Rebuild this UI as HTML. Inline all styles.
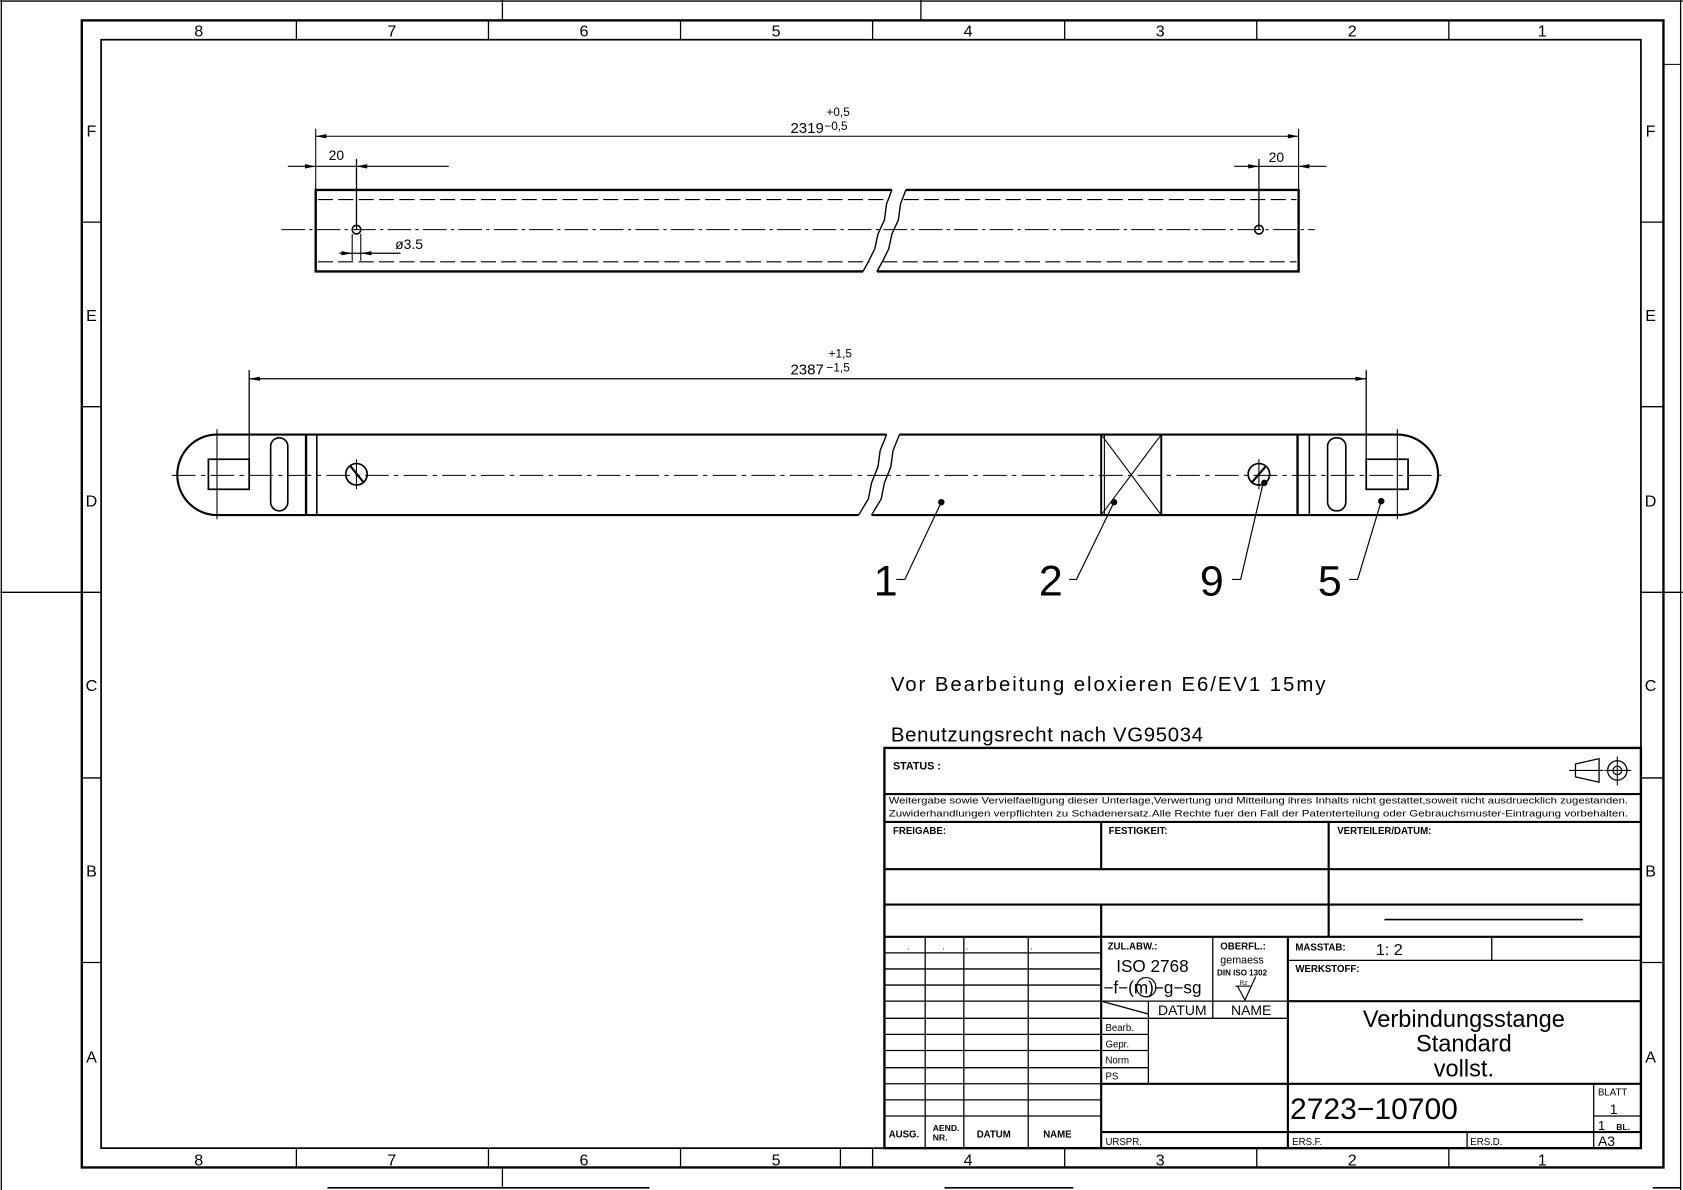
<!DOCTYPE html>
<html><head><meta charset="utf-8"><style>
html,body{margin:0;padding:0;background:#fff}
svg{display:block}
text{font-family:"Liberation Sans",sans-serif;fill:#000}
</style></head><body>
<svg width="1683" height="1190" viewBox="0 0 1568 1109" xmlns="http://www.w3.org/2000/svg">
<g stroke="#000" fill="none">
<line x1="1" y1="0" x2="1" y2="1109" stroke-width="1.2"/>
<line x1="0" y1="1" x2="1568" y2="1" stroke-width="1.2"/>
<line x1="1566" y1="0" x2="1566" y2="1109" stroke-width="1.2"/>
<line x1="468" y1="0" x2="468" y2="19" stroke-width="1.2"/>
<line x1="858" y1="0" x2="858" y2="19" stroke-width="1.2"/>
<line x1="0" y1="552" x2="76" y2="552" stroke-width="1.2"/>
<line x1="1551" y1="552" x2="1568" y2="552" stroke-width="1.2"/>
<line x1="1551" y1="60" x2="1566" y2="60"/>
<line x1="468" y1="1088" x2="468" y2="1107" stroke-width="1.2"/>
<line x1="305" y1="1107" x2="605" y2="1107" stroke-width="1.5"/>
<line x1="880" y1="1107" x2="1000" y2="1107" stroke-width="1.5"/>
<line x1="1540" y1="1107" x2="1566" y2="1107" stroke-width="1.5"/>
<rect x="76" y="19" width="1474" height="1069" stroke-width="2.2"/>
<rect x="94" y="37" width="1435" height="1033" stroke-width="1.6"/>
<g stroke-width="1.2">
<line x1="276" y1="19" x2="276" y2="37"/><line x1="455" y1="19" x2="455" y2="37"/><line x1="634" y1="19" x2="634" y2="37"/><line x1="813" y1="19" x2="813" y2="37"/><line x1="992" y1="19" x2="992" y2="37"/><line x1="1171" y1="19" x2="1171" y2="37"/><line x1="1350" y1="19" x2="1350" y2="37"/>
<line x1="276" y1="1070" x2="276" y2="1088"/><line x1="455" y1="1070" x2="455" y2="1088"/><line x1="634" y1="1070" x2="634" y2="1088"/><line x1="813" y1="1070" x2="813" y2="1088"/><line x1="992" y1="1070" x2="992" y2="1088"/><line x1="1171" y1="1070" x2="1171" y2="1088"/><line x1="1350" y1="1070" x2="1350" y2="1088"/><line x1="783" y1="1070" x2="783" y2="1088"/>
<line x1="76" y1="207" x2="94" y2="207"/><line x1="76" y1="379" x2="94" y2="379"/><line x1="76" y1="552" x2="94" y2="552"/><line x1="76" y1="725" x2="94" y2="725"/><line x1="76" y1="897" x2="94" y2="897"/>
<line x1="1529" y1="207" x2="1550" y2="207"/><line x1="1529" y1="379" x2="1550" y2="379"/><line x1="1529" y1="552" x2="1550" y2="552"/><line x1="1529" y1="725" x2="1550" y2="725"/><line x1="1529" y1="897" x2="1550" y2="897"/>
</g>
</g>
<g font-size="15" text-anchor="middle">
<text x="185" y="34">8</text><text x="365" y="34">7</text><text x="544" y="34">6</text><text x="723" y="34">5</text><text x="902" y="34">4</text><text x="1081" y="34">3</text><text x="1260" y="34">2</text><text x="1437" y="34">1</text>
<text x="185" y="1086">8</text><text x="365" y="1086">7</text><text x="544" y="1086">6</text><text x="723" y="1086">5</text><text x="902" y="1086">4</text><text x="1081" y="1086">3</text><text x="1260" y="1086">2</text><text x="1437" y="1086">1</text>
<text x="85" y="127">F</text><text x="85" y="299">E</text><text x="85" y="472">D</text><text x="85" y="644">C</text><text x="85" y="817">B</text><text x="85" y="990">A</text>
<text x="1538" y="127">F</text><text x="1538" y="299">E</text><text x="1538" y="472">D</text><text x="1538" y="644">C</text><text x="1538" y="817">B</text><text x="1538" y="990">A</text>
</g>

<g stroke="#000" fill="none">
<path d="M831 177 L294 177 L294 253 L804 253" stroke-width="2.2"/>
<path d="M844 177 L1210 177 L1210 253 L817 253" stroke-width="2.2"/>
<path d="M831 177 L826 190 L824 205 L818 218 L815 232 L809 244 L804 253" stroke-width="1.3"/>
<path d="M844 177 L839 190 L837 205 L831 218 L828 232 L822 244 L817 253" stroke-width="1.3"/>
<g stroke-dasharray="14,5" stroke-width="1"><line x1="296" y1="186" x2="826" y2="186"/><line x1="842" y1="186" x2="1208" y2="186"/><line x1="296" y1="244" x2="810" y2="244"/><line x1="822" y1="244" x2="1208" y2="244"/></g>
<line x1="262" y1="214" x2="1225" y2="214" stroke-width="1" stroke-dasharray="22,4,3,4"/>
<circle cx="332" cy="214" r="4" stroke-width="1.5"/>
<circle cx="1173" cy="214" r="4" stroke-width="1.5"/>
<line x1="294" y1="120" x2="294" y2="177" stroke-width="1"/>
<line x1="1210" y1="120" x2="1210" y2="177" stroke-width="1"/>
<line x1="294" y1="127" x2="1210" y2="127" stroke-width="1"/>
<line x1="268" y1="155" x2="418" y2="155" stroke-width="1"/>
<line x1="332" y1="148" x2="332" y2="214" stroke-width="1.2"/>
<line x1="1150" y1="155" x2="1236" y2="155" stroke-width="1"/>
<line x1="1173" y1="148" x2="1173" y2="214" stroke-width="1.2"/>
<line x1="316" y1="236" x2="373" y2="236" stroke-width="1.2"/>
<line x1="328" y1="218" x2="328" y2="243" stroke-width="1"/><line x1="336" y1="218" x2="336" y2="243" stroke-width="1"/>
</g>
<g fill="#000">
<path d="M294 127 l10 -2 v4z"/><path d="M1210 127 l-10 -2 v4z"/>
<path d="M294 155 l-10 -2 v4z"/><path d="M332 155 l10 -2 v4z"/>
<path d="M1173 155 l-10 -2 v4z"/><path d="M1210 155 l10 -2 v4z"/>
<path d="M328 236 l-10 -2 v4z"/><path d="M336 236 l10 -2 v4z"/>
</g>
<text x="752" y="124" font-size="14" text-anchor="middle">2319</text>
<text x="770" y="108" font-size="11">+0,5</text>
<text x="768" y="121" font-size="11">−0,5</text>
<text x="306" y="149" font-size="13">20</text>
<text x="1182" y="151" font-size="13">20</text>
<text x="368" y="232" font-size="13">ø3.5</text>

<g stroke="#000" fill="none">
<path d="M826 405 L202 405 A37 37.5 0 0 0 202 480 L800 480" stroke-width="2"/>
<path d="M838 405 L1302 405 A38 37.5 0 0 1 1302 480 L812 480" stroke-width="2"/>
<path d="M826 405 L820 420 L818 435 L812 450 L809 465 L803 475 L800 480" stroke-width="1.3"/>
<path d="M838 405 L832 420 L830 435 L824 450 L821 465 L815 475 L812 480" stroke-width="1.3"/>
<line x1="160" y1="443" x2="1345" y2="443" stroke-width="1" stroke-dasharray="22,5,4,5"/>
<line x1="202" y1="400" x2="202" y2="484" stroke-width="1"/>
<line x1="1302" y1="400" x2="1302" y2="484" stroke-width="1"/>
<rect x="194" y="428" width="38" height="28" stroke-width="1.6"/>
<rect x="1273" y="428" width="39" height="28" stroke-width="1.6"/>
<rect x="252" y="408" width="16" height="68" rx="8" stroke-width="1.5"/>
<rect x="1237" y="408" width="17" height="68" rx="8" stroke-width="1.5"/>
<line x1="285" y1="405" x2="285" y2="480" stroke-width="2.2"/><line x1="295" y1="405" x2="295" y2="480" stroke-width="1.5"/>
<line x1="1209" y1="405" x2="1209" y2="480" stroke-width="2.2"/><line x1="1220" y1="405" x2="1220" y2="480" stroke-width="1.5"/>
<circle cx="332" cy="442" r="10" stroke-width="1.6"/><line x1="326" y1="434" x2="339" y2="450" stroke-width="2"/><line x1="332" y1="428" x2="332" y2="456" stroke-width="1"/>
<circle cx="1173" cy="442" r="10" stroke-width="1.6"/><line x1="1166" y1="450" x2="1180" y2="434" stroke-width="2"/><line x1="1173" y1="428" x2="1173" y2="456" stroke-width="1"/>
<rect x="1026" y="405" width="56" height="75" stroke-width="1.8"/>
<line x1="1029" y1="405" x2="1029" y2="480" stroke-width="1"/>
<line x1="1026" y1="405" x2="1082" y2="480" stroke-width="1"/><line x1="1082" y1="405" x2="1026" y2="480" stroke-width="1"/>
<line x1="232" y1="345" x2="232" y2="428" stroke-width="1.2"/>
<line x1="1273" y1="345" x2="1273" y2="428" stroke-width="1.2"/>
<line x1="232" y1="353" x2="1273" y2="353" stroke-width="1.2"/>
<g stroke-width="1.1">
<path d="M877 468 L843 540 L835 540"/><path d="M1038 468 L1003 540 L996 540"/><path d="M1177 450 L1156 540 L1148 540"/><path d="M1287 467 L1265 540 L1257 540"/>
</g>
</g>
<g fill="#000">
<path d="M232 353 l10 -2 v4z"/><path d="M1273 353 l-10 -2 v4z"/>
<circle cx="877" cy="468" r="3"/><circle cx="1038" cy="468" r="3"/><circle cx="1178" cy="450" r="3"/><circle cx="1287" cy="467" r="3"/>
</g>
<text x="752" y="349" font-size="14" text-anchor="middle">2387</text>
<text x="772" y="333" font-size="11">+1,5</text>
<text x="770" y="346" font-size="11">−1,5</text>
<g font-size="40" font-weight="normal">
<text x="814" y="555">1</text><text x="968" y="555">2</text><text x="1118" y="555">9</text><text x="1228" y="555">5</text>
</g>
<text x="830" y="644" font-size="19" textLength="405" lengthAdjust="spacing">Vor Bearbeitung eloxieren E6/EV1 15my</text>
<text x="830" y="691" font-size="19" textLength="291" lengthAdjust="spacing">Benutzungsrecht nach VG95034</text>

<g stroke="#000" fill="none">
<rect x="824" y="697" width="705" height="373" stroke-width="2.2"/>
<g stroke-width="2">
<line x1="824" y1="740" x2="1529" y2="740"/><line x1="824" y1="766" x2="1529" y2="766"/><line x1="824" y1="810" x2="1529" y2="810"/><line x1="824" y1="843" x2="1529" y2="843"/><line x1="824" y1="873" x2="1529" y2="873"/>
<line x1="1200" y1="933" x2="1529" y2="933"/><line x1="1200" y1="1010" x2="1529" y2="1010"/><line x1="1026" y1="1055" x2="1529" y2="1055"/><line x1="1026" y1="1010" x2="1200" y2="1010"/>
<line x1="1026" y1="766" x2="1026" y2="810"/><line x1="1238" y1="766" x2="1238" y2="873"/><line x1="1026" y1="843" x2="1026" y2="1070"/><line x1="1200" y1="873" x2="1200" y2="1070"/>
</g>
<g stroke-width="1.2">
<line x1="1290" y1="857" x2="1475" y2="857" stroke-width="1.5"/>
<line x1="1200" y1="895" x2="1529" y2="895"/><line x1="1390" y1="873" x2="1390" y2="895"/>
<line x1="1485" y1="1010" x2="1485" y2="1070"/><line x1="1485" y1="1040" x2="1529" y2="1040"/><line x1="1367" y1="1055" x2="1367" y2="1070"/>
<line x1="1130" y1="873" x2="1130" y2="949"/><line x1="1026" y1="933" x2="1200" y2="933"/><line x1="1026" y1="949" x2="1200" y2="949"/><line x1="1070" y1="933" x2="1070" y2="1010"/>
<line x1="1026" y1="933" x2="1070" y2="945"/>
<line x1="1026" y1="964" x2="1070" y2="964"/><line x1="1026" y1="979" x2="1070" y2="979"/><line x1="1026" y1="995" x2="1070" y2="995"/>
<line x1="862" y1="873" x2="862" y2="1070"/><line x1="898" y1="873" x2="898" y2="1070"/><line x1="958" y1="873" x2="958" y2="1070"/>
<line x1="824" y1="888" x2="1026" y2="888"/><line x1="824" y1="903" x2="1026" y2="903"/><line x1="824" y1="918" x2="1026" y2="918"/><line x1="824" y1="933" x2="1026" y2="933"/><line x1="824" y1="949" x2="1026" y2="949"/><line x1="824" y1="964" x2="1026" y2="964"/><line x1="824" y1="979" x2="1026" y2="979"/><line x1="824" y1="995" x2="1026" y2="995"/><line x1="824" y1="1010" x2="1026" y2="1010"/><line x1="824" y1="1025" x2="1026" y2="1025"/><line x1="824" y1="1040" x2="1026" y2="1040"/>
</g>
<path d="M1468 712 L1490 707 L1490 729 L1468 724 Z" stroke-width="1.2"/>
<line x1="1462" y1="718" x2="1494" y2="718" stroke-width="1"/>
<circle cx="1507" cy="718" r="9" stroke-width="1.2"/><circle cx="1507" cy="718" r="4" stroke-width="1.2"/>
<line x1="1495" y1="718" x2="1520" y2="718" stroke-width="1"/><line x1="1507" y1="705" x2="1507" y2="732" stroke-width="1"/>
<circle cx="1068" cy="920" r="9" stroke-width="1.1"/>
<path d="M1153 919 L1160 932 L1170 910" stroke-width="1.1"/><line x1="1151" y1="919" x2="1165" y2="919" stroke-width="1"/>
</g>
<g font-size="9" font-weight="bold">
<text x="832" y="717" font-size="10">STATUS :</text>
<text x="832" y="777">FREIGABE:</text><text x="1033" y="777">FESTIGKEIT:</text><text x="1246" y="777">VERTEILER/DATUM:</text>
<text x="1032" y="885">ZUL.ABW.:</text><text x="1137" y="885">OBERFL.:</text>
<text x="1207" y="886">MASSTAB:</text><text x="1207" y="906">WERKSTOFF:</text>
<text x="1030" y="961" font-weight="normal">Bearb.</text><text x="1030" y="976" font-weight="normal">Gepr.</text><text x="1030" y="991" font-weight="normal">Norm</text><text x="1030" y="1006" font-weight="normal">PS</text>
<text x="828" y="1060">AUSG.</text><text x="869" y="1054" font-size="8">AEND.</text><text x="869" y="1063" font-size="8">NR.</text><text x="910" y="1060">DATUM</text><text x="972" y="1060">NAME</text>
<text x="1030" y="1067" font-weight="normal">URSPR.</text><text x="1204" y="1067" font-weight="normal">ERS.F.</text><text x="1370" y="1067" font-weight="normal">ERS.D.</text>
<text x="1489" y="1021" font-weight="normal">BLATT</text>
</g>
<text x="828" y="749" font-size="8.6" textLength="689" lengthAdjust="spacingAndGlyphs">Weitergabe sowie Vervielfaeltigung dieser Unterlage,Verwertung und Mitteilung ihres Inhalts nicht gestattet,soweit nicht ausdruecklich zugestanden.</text>
<text x="828" y="761" font-size="8.6" textLength="689" lengthAdjust="spacingAndGlyphs">Zuwiderhandlungen verpflichten zu Schadenersatz.Alle Rechte fuer den Fall der Patenterteilung oder Gebrauchsmuster-Eintragung vorbehalten.</text>
<text x="1040" y="906" font-size="16">ISO 2768</text>
<text x="1028" y="926" font-size="16">−f−(m)−g−sg</text>
<text x="1137" y="898" font-size="10">gemaess</text>
<text x="1134" y="909" font-size="7.5" font-weight="bold">DIN ISO 1302</text>
<text x="1155" y="918" font-size="6">Rz</text>
<text x="1079" y="946" font-size="13">DATUM</text><text x="1147" y="946" font-size="13">NAME</text>
<text x="1282" y="890" font-size="15">1: 2</text>
<g font-size="22" text-anchor="middle"><text x="1364" y="957">Verbindungsstange</text><text x="1364" y="980">Standard</text><text x="1364" y="1003">vollst.</text></g>
<text x="1202" y="1043" font-size="28">2723−10700</text>
<text x="1500" y="1038" font-size="13">1</text>
<text x="1489" y="1053" font-size="12">1</text><text x="1506" y="1053" font-size="8" font-weight="bold">BL.</text>
<text x="1489" y="1068" font-size="13">A3</text>
<g font-size="8" fill="#000">
<text x="845" y="885">.</text><text x="878" y="885">.</text><text x="900" y="885">.</text><text x="960" y="885">.</text>
</g>
</svg>
</body></html>
